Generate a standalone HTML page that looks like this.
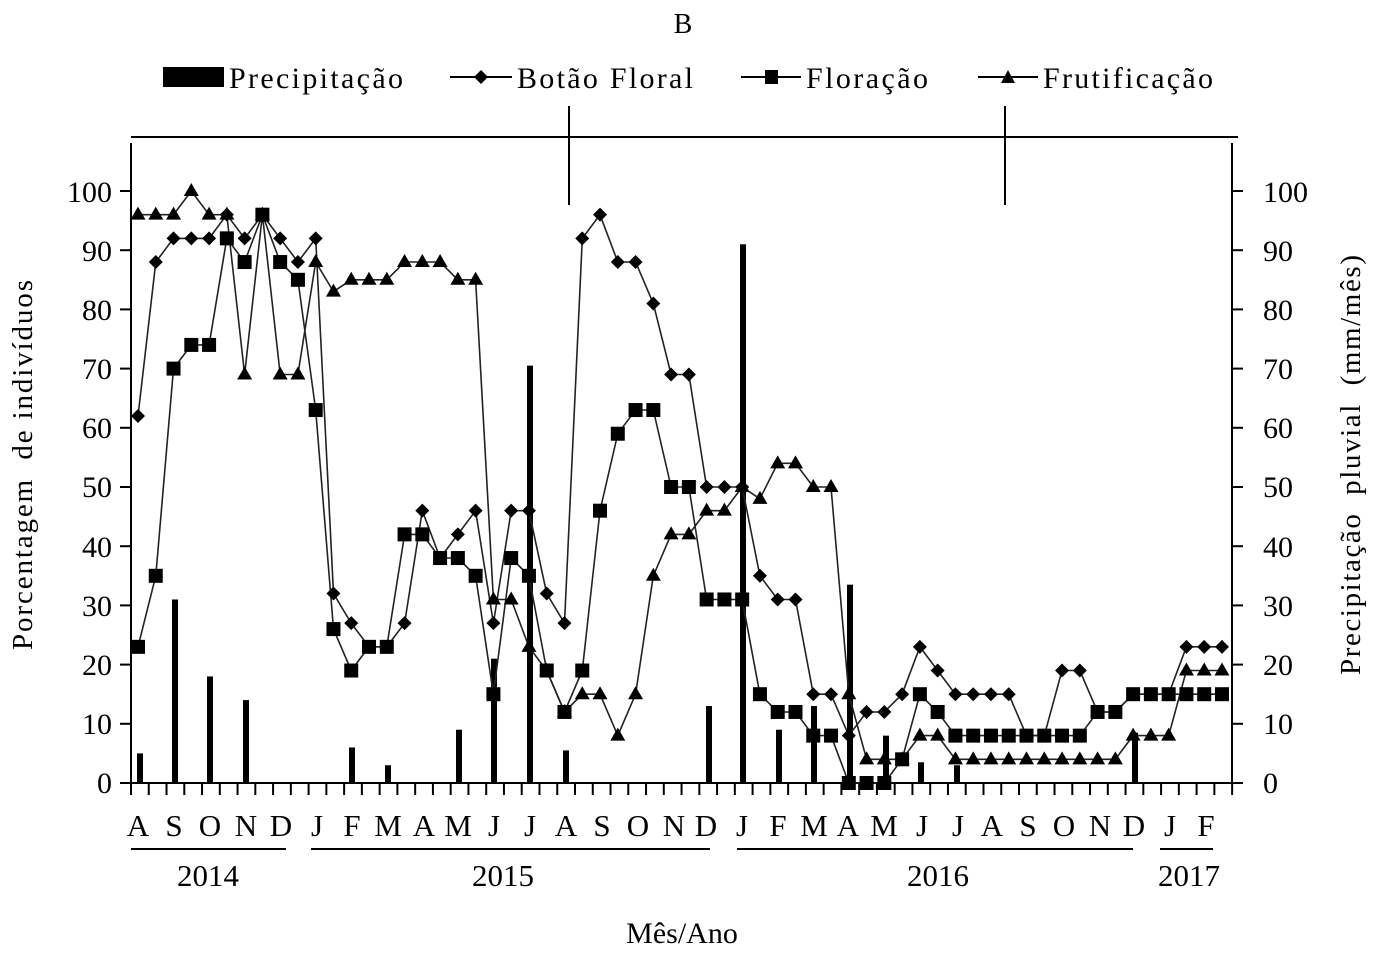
<!DOCTYPE html>
<html><head><meta charset="utf-8"><style>
html,body{margin:0;padding:0;background:#fff;}
svg{display:block;font-family:"Liberation Serif",serif;}
</style></head><body>
<svg id="s" width="1376" height="955" viewBox="0 0 1376 955" xmlns="http://www.w3.org/2000/svg">
<rect width="1376" height="955" fill="#fff"/>
<text x="683" y="33" font-size="28" text-anchor="middle">B</text>
<rect x="163" y="67" width="61" height="20" fill="#000"/>
<text x="229" y="88" font-size="30" textLength="174">Precipitação</text>
<line x1="450" y1="77" x2="512" y2="77" stroke="#000" stroke-width="2"/>
<path d="M481 70 L488 77 L481 84 L474 77Z" fill="#000"/>
<text x="517" y="88" font-size="30" textLength="176">Botão Floral</text>
<line x1="741" y1="77" x2="801" y2="77" stroke="#000" stroke-width="2"/>
<rect x="765" y="70" width="13" height="14" fill="#000"/>
<text x="806" y="88" font-size="30" textLength="122">Floração</text>
<line x1="978" y1="77" x2="1038" y2="77" stroke="#000" stroke-width="2"/>
<path d="M1008 70 L1015 83 L1001 83Z" fill="#000"/>
<text x="1043" y="88" font-size="30" textLength="170">Frutificação</text>
<line x1="131" y1="137" x2="1238" y2="137" stroke="#000" stroke-width="2"/>
<line x1="569" y1="106" x2="569" y2="205" stroke="#000" stroke-width="2"/>
<line x1="1005" y1="106" x2="1005" y2="205" stroke="#000" stroke-width="2"/>
<line x1="131" y1="143" x2="131" y2="784" stroke="#000" stroke-width="2"/>
<line x1="1232" y1="143" x2="1232" y2="784" stroke="#000" stroke-width="2"/>
<line x1="120" y1="783" x2="1243" y2="783" stroke="#000" stroke-width="2"/>
<g id="ticks" stroke="#000" stroke-width="2"></g>
<g id="bars" fill="#000"></g>
<g id="series"></g>
<g font-size="30" text-anchor="end">
<text x="112" y="793">0</text><text x="112" y="734">10</text><text x="112" y="675">20</text><text x="112" y="616">30</text><text x="112" y="557">40</text><text x="112" y="497">50</text><text x="112" y="438">60</text><text x="112" y="379">70</text><text x="112" y="320">80</text><text x="112" y="261">90</text><text x="112" y="202">100</text>
</g>
<g font-size="30" text-anchor="start">
<text x="1263" y="793">0</text><text x="1263" y="734">10</text><text x="1263" y="675">20</text><text x="1263" y="616">30</text><text x="1263" y="557">40</text><text x="1263" y="497">50</text><text x="1263" y="438">60</text><text x="1263" y="379">70</text><text x="1263" y="320">80</text><text x="1263" y="261">90</text><text x="1263" y="202">100</text>
</g>
<text transform="translate(32,465) rotate(-90)" font-size="29" text-anchor="middle" textLength="370" xml:space="preserve">Porcentagem  de indivíduos</text>
<text transform="translate(1360,465) rotate(-90)" font-size="29" text-anchor="middle" textLength="420" xml:space="preserve">Precipitação  pluvial  (mm/mês)</text>
<g font-size="31" text-anchor="middle">
<text x="138" y="836">A</text><text x="174" y="836">S</text><text x="210" y="836">O</text><text x="246" y="836">N</text><text x="281" y="836">D</text>
<text x="317" y="836">J</text><text x="352" y="836">F</text><text x="388" y="836">M</text><text x="424" y="836">A</text><text x="458" y="836">M</text><text x="494" y="836">J</text><text x="530" y="836">J</text><text x="566" y="836">A</text><text x="602" y="836">S</text><text x="638" y="836">O</text><text x="674" y="836">N</text><text x="706" y="836">D</text>
<text x="742" y="836">J</text><text x="778" y="836">F</text><text x="814" y="836">M</text><text x="848" y="836">A</text><text x="884" y="836">M</text><text x="922" y="836">J</text><text x="958" y="836">J</text><text x="992" y="836">A</text><text x="1028" y="836">S</text><text x="1064" y="836">O</text><text x="1100" y="836">N</text><text x="1134" y="836">D</text>
<text x="1170" y="836">J</text><text x="1206" y="836">F</text>
</g>
<g stroke="#000" stroke-width="2">
<line x1="131" y1="849" x2="286" y2="849"/>
<line x1="311" y1="849" x2="710" y2="849"/>
<line x1="737" y1="849" x2="1133" y2="849"/>
<line x1="1160" y1="849" x2="1213" y2="849"/>
</g>
<g font-size="31" text-anchor="middle">
<text x="208" y="886">2014</text><text x="503" y="886">2015</text><text x="938" y="886">2016</text><text x="1189" y="886">2017</text>
</g>
<text x="682" y="943" font-size="30" text-anchor="middle">Mês/Ano</text>
</svg>
<script>
var NS="http://www.w3.org/2000/svg";
function el(p,n,a){var e=document.createElementNS(NS,n);for(var k in a)e.setAttribute(k,a[k]);p.appendChild(e);return e;}
var tk=document.getElementById("ticks");
for(var k=0;k<=62;k++){var x=131+17.76*k;el(tk,"line",{x1:x,y1:783,x2:x,y2:795});}
for(var v=0;v<=100;v+=10){var y=783-5.92*v;el(tk,"line",{x1:120,y1:y,x2:131,y2:y});el(tk,"line",{x1:1232,y1:y,x2:1243,y2:y});}
var bars=[[140,5],[175,31],[210,18],[246,14],[352,6],[388,3],[459,9],[494,21],[530,70.5],[566,5.5],[709,13],[743,91],[779,9],[814,13],[850,33.5],[886,8],[921,3.5],[957,3],[1135,8.5]];
var bg=document.getElementById("bars");
bars.forEach(function(b){var h=b[1]*5.92;el(bg,"rect",{x:b[0]-3,y:783-h,width:6,height:h});});
var B=[62,88,92,92,92,96,92,96,92,88,92,32,27,23,23,27,46,38,42,46,27,46,46,32,27,92,96,88,88,81,69,69,50,50,50,35,31,31,15,15,8,12,12,15,23,19,15,15,15,15,8,8,19,19,12,12,15,15,15,23,23,23];
var F=[23,35,70,74,74,92,88,96,88,85,63,26,19,23,23,42,42,38,38,35,15,38,35,19,12,19,46,59,63,63,50,50,31,31,31,15,12,12,8,8,0,0,0,4,15,12,8,8,8,8,8,8,8,8,12,12,15,15,15,15,15,15];
var T=[96,96,96,100,96,96,69,96,69,69,88,83,85,85,85,88,88,88,85,85,31,31,23,19,12,15,15,8,15,35,42,42,46,46,50,48,54,54,50,50,15,4,4,4,8,8,4,4,4,4,4,4,4,4,4,4,8,8,8,19,19,19];
var sg=document.getElementById("series");
function X(i){return 138+17.77*i;}function Y(v){return 783-5.92*v;}
function line(d){var p="";d.forEach(function(v,i){p+=(i?"L":"M")+X(i).toFixed(1)+" "+Y(v).toFixed(1);});el(sg,"path",{d:p,fill:"none",stroke:"#222",'stroke-width':1.6});}
line(T);line(B);line(F);
T.forEach(function(v,i){var x=X(i),y=Y(v);el(sg,"path",{d:"M"+x+" "+(y-8)+"L"+(x+7.5)+" "+(y+5)+"L"+(x-7.5)+" "+(y+5)+"Z",fill:"#000"});});
B.forEach(function(v,i){var x=X(i),y=Y(v);el(sg,"path",{d:"M"+x+" "+(y-7)+"L"+(x+7)+" "+y+"L"+x+" "+(y+7)+"L"+(x-7)+" "+y+"Z",fill:"#000"});});
F.forEach(function(v,i){var x=X(i),y=Y(v);el(sg,"rect",{x:x-7,y:y-7,width:14,height:14,fill:"#000"});});
</script>
</body></html>
